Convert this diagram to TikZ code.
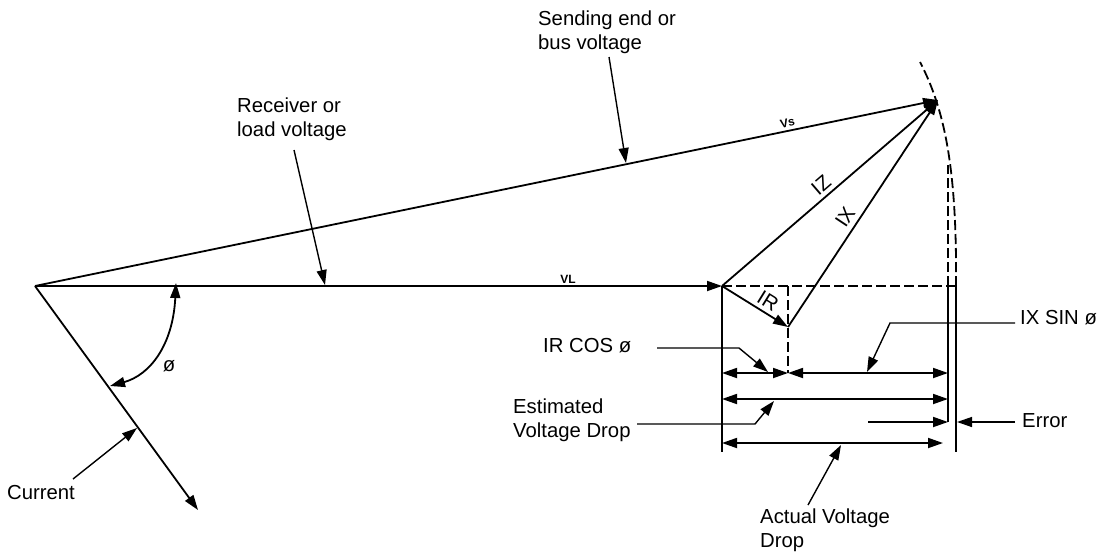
\documentclass[tikz,border=0pt]{standalone}
\usepackage{fontspec}
\setmainfont{Liberation Sans}
\usetikzlibrary{
  arrows.meta,
  calc,
}
\tikzset{
  semithick,
  >={Triangle[length=15pt,width=10pt]},
  my line/.style={
    line width=1.8pt
  },
  my vector/.style={
    my line,
    ->
  },
  my dim/.style={
    my line,
    <->
  },
  my leader/.style={
    line width=1.4pt,
    ->
  },
  my guide/.style={
    my line,
    dash pattern=on 10pt off 4pt
  },
  my text/.style={
    font=\fontsize{20.3}{24}\selectfont,
    inner sep=0pt,
    align=left
  },
  my small/.style={
    font=\fontsize{12}{14}\selectfont\bfseries,
    inner sep=0pt
  }
}

\begin{document}
\begin{tikzpicture}[x=1pt,y=-1pt]
\useasboundingbox (0,0) rectangle (1102,552);
% phasor points
\coordinate (O) at (35,286);
\coordinate (A) at (722,286);
\coordinate (S) at (938,100);
\coordinate (B) at (788,327);
\coordinate (C) at (198,510);
\coordinate (E) at (956,286);
\coordinate (F) at (948,286);
% phasors
\draw[my vector] (O) -- node[my small, sloped, pos=0.776, above=1.5pt] (vl) {VL} (A);
\draw[my vector] (O) -- node[my small, sloped, pos=0.835, above=3pt] (vs) {Vs} (S);
\draw[my vector] (O) -- (C);
\draw[my vector] (A) -- (S);
\draw[my vector] (A) -- (B);
\draw[my vector] (B) -- (S);
\node[my text, rotate=40.7] (iz) at (821,185) {IZ};
\node[my text, rotate=56.5] (ix) at (845,217) {IX};
\node[my text, rotate=-31.8] (ir) at (768,301) {IR};
% angle
\draw[my line, <->] (176,283) .. controls (173,345) and (150,375) .. (110,386);
\node[my text, anchor=center] (phi) at (169,366) {ø};
% construction lines
\draw[my guide] (A) -- (E);
\draw[my guide] (788,286) -- (788,373);
\draw[my guide] (E) .. controls (957,170) and (945,110) .. (920,62);
\draw[my guide] (F) -- (948,165);
\draw[my line] (A) -- (722,452);
\draw[my line] (F) -- (948,422);
\draw[my line] (E) -- (956,452);
% dimensions
\draw[my dim] (722,373) -- (788,373);
\draw[my dim] (788,373) -- (948,373);
\draw[my dim] (722,399) -- (948,399);
\draw[my vector] (868,422) -- (948,422);
\draw[my dim] (722,443) -- (943,443);
% labels
\node[my text, anchor=north west] (snd) at (538,10.5) {Sending end or\\bus voltage};
\node[my text, anchor=north west] (rcv) at (237,97.5) {Receiver or\\load voltage};
\node[my text, anchor=base west] (cur) at (7,499) {Current};
\node[my text, anchor=base west] (ircos) at (543,352) {IR COS ø};
\node[my text, anchor=base west] (ixsin) at (1020,324) {IX SIN ø};
\node[my text, anchor=north west] (est) at (513,398.5) {Estimated\\Voltage Drop};
\node[my text, anchor=base west] (err) at (1022,427) {Error};
\node[my text, anchor=north west] (act) at (760,508.5) {Actual Voltage\\Drop};
% leaders
\draw[my leader] (609,57) -- (626,163);
\draw[my leader] (294,150) -- (325,285);
\draw[my leader] (73,479) -- (137,428);
\draw[my leader] (657,348) -- (739,348) -- (768,372);
\draw[my leader] (1015,323) -- (890,323) -- (867,372);
\draw[my leader] (637,424) -- (755,424) -- (774,401);
\draw[my leader] (808,505) -- (841,445);
\draw[my leader] (1015,422) -- (957,422);
\end{tikzpicture}
\end{document}
